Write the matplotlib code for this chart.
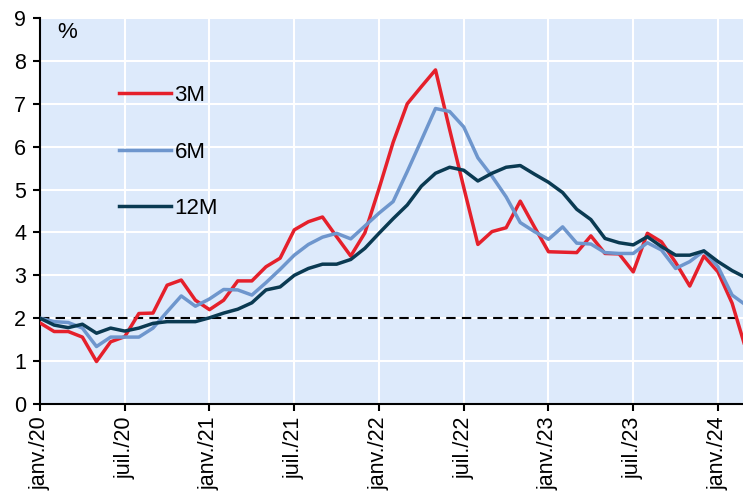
import matplotlib
matplotlib.use("Agg")
import matplotlib.pyplot as plt
import numpy as np

plt.rcParams['font.family'] = ['Liberation Sans', 'DejaVu Sans']

tick_labels = ["janv./20", "juil./20", "janv./21", "juil./21", "janv./22",
               "juil./22", "janv./23", "juil./23", "janv./24"]

r3m = [1.89, 1.69, 1.69, 1.56, 0.99, 1.45, 1.57, 2.11, 2.12, 2.77,
       2.89, 2.42, 2.20, 2.42, 2.87, 2.87, 3.20, 3.40, 4.06, 4.25,
       4.36, 3.90, 3.45, 3.99, 5.02, 6.10, 7.00, 7.40, 7.79, 6.40,
       5.05, 3.72, 4.02, 4.11, 4.73, 4.13, 3.55, 3.54, 3.53, 3.92,
       3.51, 3.50, 3.08, 3.98, 3.78, 3.30, 2.75, 3.45, 3.08, 2.35,
       1.25]

r6m = [2.00, 1.92, 1.90, 1.77, 1.34, 1.56, 1.56, 1.56, 1.77, 2.15,
       2.52, 2.28, 2.45, 2.67, 2.66, 2.54, 2.83, 3.14, 3.47, 3.72,
       3.89, 3.98, 3.85, 4.15, 4.45, 4.72, 5.42, 6.15, 6.89, 6.82,
       6.46, 5.74, 5.31, 4.83, 4.23, 4.02, 3.84, 4.13, 3.75, 3.73,
       3.53, 3.51, 3.51, 3.76, 3.59, 3.16, 3.32, 3.57, 3.20, 2.54,
       2.30]

r12m = [2.00, 1.84, 1.78, 1.86, 1.65, 1.77, 1.70, 1.77, 1.88, 1.92,
        1.92, 1.92, 2.01, 2.12, 2.21, 2.36, 2.66, 2.73, 3.00, 3.16,
        3.26, 3.26, 3.37, 3.63, 3.98, 4.32, 4.64, 5.08, 5.38, 5.52,
        5.45, 5.20, 5.38, 5.52, 5.56, 5.36, 5.17, 4.93, 4.54, 4.30,
        3.86, 3.76, 3.71, 3.90, 3.67, 3.47, 3.47, 3.57, 3.32, 3.11,
        2.94]

target = 2.0

x = np.arange(len(r3m))

fig = plt.figure(figsize=(7.43, 4.93), dpi=100)
ax = fig.add_axes([40/743, (493-404)/493, 703/743, (404-18)/493])
ax.set_facecolor('#DDEAFB')

ax.plot(x, r3m, color='#E5202B', lw=2.5, label='3M', zorder=3)
ax.plot(x, r6m, color='#6E96CD', lw=2.5, label='6M', zorder=3)
ax.plot(x, r12m, color='#0A3A52', lw=2.5, label='12M', zorder=4)
ax.axhline(target, color='black', lw=1.5, ls=(0, (4.5, 3)), zorder=2)

ax.set_xlim(0, 49.77)
ax.set_ylim(0, 9)
ax.set_yticks(range(0, 10))
ax.set_xticks(np.arange(0, 49, 6))
ax.set_xticklabels(tick_labels, rotation=90)
ax.grid(True, color='white', lw=1.5)
ax.set_axisbelow(True)
for s in ['top', 'right']:
    ax.spines[s].set_visible(False)
for s in ['left', 'bottom']:
    ax.spines[s].set_color('black')
    ax.spines[s].set_linewidth(1.5)
ax.tick_params(axis='both', direction='out', length=5, width=1.5,
               labelsize=15.5, colors='black')
ax.tick_params(axis='y', pad=5)
ax.tick_params(axis='x', pad=4)

ax.text(0.025, 0.99, '%', transform=ax.transAxes, fontsize=16,
        va='top', ha='left')

leg = ax.legend(loc='upper left', bbox_to_anchor=(0.084, 0.878), frameon=False,
                fontsize=16, handlelength=2.35, handletextpad=0.15,
                labelspacing=1.6)

fig.savefig('out.png', dpi=100)
